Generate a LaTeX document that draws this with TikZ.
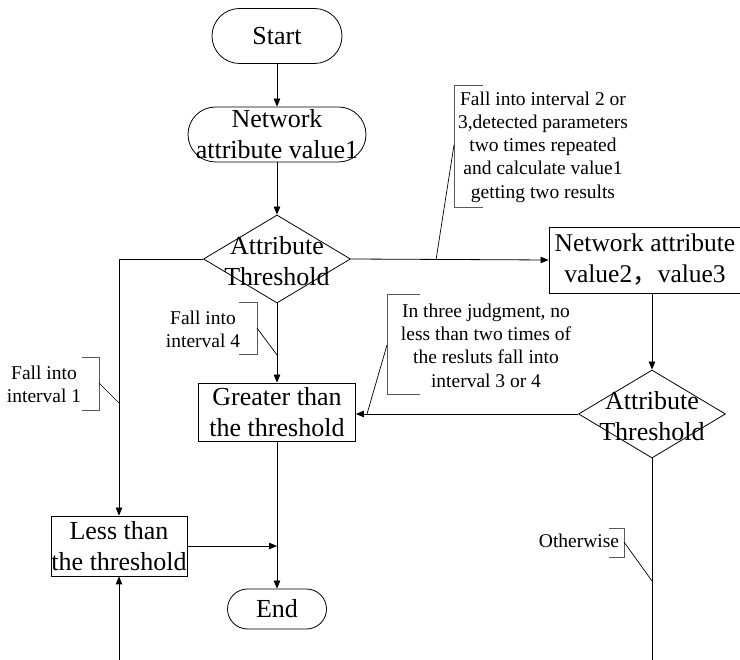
\documentclass[tikz,border=0pt]{standalone}
\usepackage{fontspec}
\setmainfont{Liberation Serif}
\newfontfamily\cjkfont{Noto Sans CJK SC}
\usetikzlibrary{shapes.geometric,arrows.meta,calc}
\begin{document}
\begin{tikzpicture}[x=1pt,y=-1pt,
 big/.style={font=\fontsize{26}{31}\selectfont, align=center},
 small/.style={font=\fontsize{19.5}{23.3}\selectfont, align=center},
 term/.style={rectangle, draw, line width=0.8pt, inner sep=0pt, big},
 box/.style={rectangle, draw, line width=0.8pt, inner sep=0pt, big},
 dia/.style={diamond, draw, line width=0.8pt, inner sep=0pt, minimum width=147pt, minimum height=88pt},
 plain/.style={line width=0.8pt},
 arr/.style={line width=0.8pt, -{Triangle[length=8pt,width=6.5pt]}},
 brk/.style={line width=0.8pt, draw=black!65},
 lead/.style={line width=0.7pt},
]
\clip (0,0) rectangle (740,660);
% main nodes
\node[term, rounded corners=27.5pt, minimum width=130pt, minimum height=55pt] (start) at (277,36) {Start};
\node[term, rounded corners=27.5pt, minimum width=178pt, minimum height=55pt] (nav1) at (277,134.5) {Network\\attribute value1};
\node[dia] (d1) at (277,259) {};
\node[big] (d1t) at ($(d1)+(0,2)$) {Attribute\\Threshold};
\node[box, minimum width=206pt, minimum height=66pt] (nav23) at (652,260) {};
\node[big, font=\fontsize{25.5}{31}\selectfont] (nav23t) at (645,260) {Network attribute\\value2{\cjkfont ，}value3};
\node[dia] (d2) at (652,414) {};
\node[big] (d2t) at ($(d2)+(0,2)$) {Attribute\\Threshold};
\node[box, minimum width=157pt, minimum height=58pt] (gt) at (277,412) {Greater than\\the threshold};
\node[box, minimum width=136pt, minimum height=60pt] (less) at (119,546) {Less than\\the threshold};
\node[term, rounded corners=20pt, minimum width=99pt, minimum height=40pt] (end) at (277,609) {End};
% connectors
\draw[arr] (start) -- (nav1);
\draw[arr] (nav1) -- (d1);
\draw[arr] (d1.west) -| (less.north);
\draw[arr] (d1.east) -- (nav23.west);
\draw[arr] (d1.south) -- (gt.north);
\draw[arr] (nav23.south) -- (d2.north);
\draw[arr] (d2.west) -- (d2.west -| gt.east);
\draw[arr] (gt.south) -- (end.north);
\coordinate (jn) at (less.east -| gt.south);
\draw[arr] (less.east) -- (jn);
\coordinate (bl) at (119,665);
\draw[arr] (bl) -- (less.south);
\coordinate (br) at (652,665);
\draw[plain] (d2.south) -- (br);
% annotations
\node[small] (a1) at (543,147) {Fall into interval 2 or\\3,detected parameters\\two times repeated\\and calculate value1\\getting two results};
\draw[brk] (483,85) -- (454,85) -- (454,207) -- (483,207);
\coordinate (a1b) at (454,145);
\coordinate (a1p) at (436,260);
\draw[lead] (a1b) -- (a1p);

\node[small] (a4) at (203,329) {Fall into\\interval 4};
\draw[brk] (239,302) -- (257,302) -- (257,354) -- (239,354);
\coordinate (a4b) at (257,328);
\coordinate (a4p) at (277,355);
\draw[lead] (a4b) -- (a4p);

\node[small] (a2) at (44,384) {Fall into\\interval 1};
\draw[brk] (82,357) -- (99,357) -- (99,410) -- (82,410);
\coordinate (a2b) at (99,383);
\coordinate (a2p) at (119,403);
\draw[lead] (a2b) -- (a2p);

\node[small] (a3) at (486,345.5) {In three judgment, no\\less than two times of\\the resluts fall into\\interval 3 or 4};
\draw[brk] (420,294) -- (387,294) -- (387,394) -- (420,394);
\coordinate (a3b) at (387,345);
\coordinate (a3p) at (367,414);
\draw[lead] (a3b) -- (a3p);

\node[small, anchor=base] (a5) at (579,548) {Otherwise};
\draw[brk] (609,528) -- (624,528) -- (624,557) -- (609,557);
\coordinate (a5b) at (624,542);
\coordinate (a5p) at (652,581);
\draw[lead] (a5b) -- (a5p);
\end{tikzpicture}
\end{document}
